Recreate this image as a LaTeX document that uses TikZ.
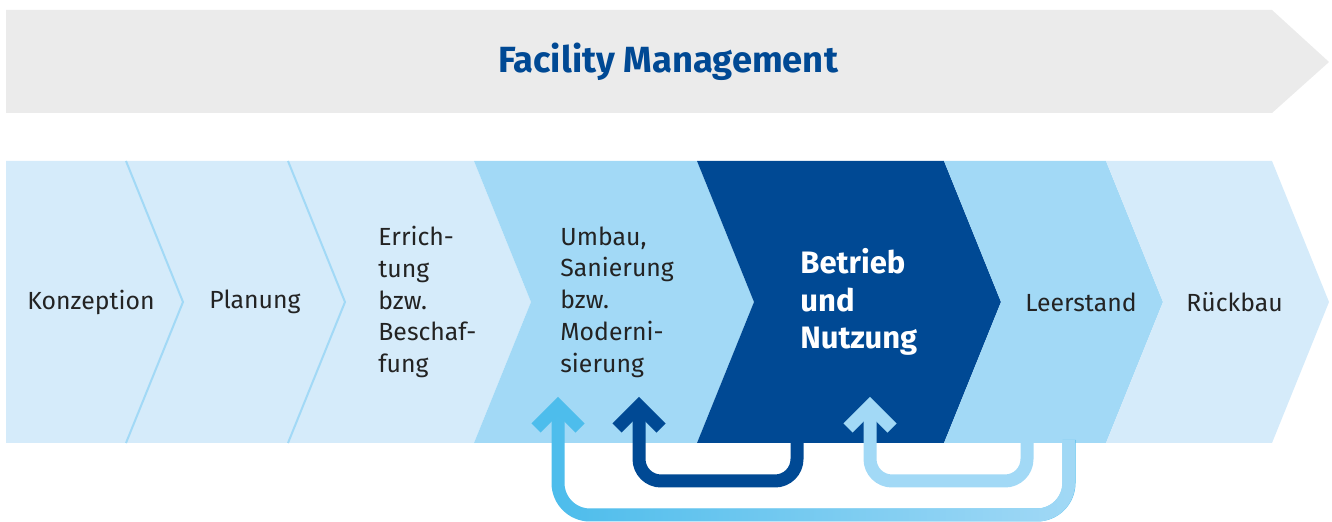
\documentclass[tikz,border=0pt]{standalone}
\usepackage{fontspec}
\setmainfont{Fira Sans}
\usetikzlibrary{calc,fadings}
\definecolor{fmgray}{RGB}{235,235,235}
\definecolor{fmlight}{RGB}{213,235,250}
\definecolor{fmmid}{RGB}{162,217,246}
\definecolor{fmdark}{RGB}{0,73,148}
\definecolor{fmcyan}{RGB}{77,189,236}
\definecolor{fmtext}{RGB}{35,35,35}
\tikzfading[name=loopfade,left color=transparent!100,right color=transparent!0]

\begin{document}
\begin{tikzpicture}[x=0.5pt,y=-0.5pt,
  phase/.style={anchor=west,inner sep=0pt,align=left,text=fmtext,
    font=\fontsize{12.4}{15.9}\selectfont},
  phasebold/.style={phase,text=white,font=\fontsize{15.5}{18.75}\selectfont\bfseries},
  sep/.style={fmmid,line width=1pt},
  backloop/.style={line width=6.5pt,rounded corners=11pt},
  head/.style={line width=6.5pt,line join=miter}
]
  \useasboundingbox (0,0) rectangle (1332,522);

  % facility management band
  \fill[fmgray] (6,10) -- (1272,10) -- (1329,62) -- (1272,113) -- (6,113) -- cycle;
  \node[font=\fontsize{18.2}{20}\selectfont\bfseries,text=fmdark] (fm) at (668,62) {Facility Management};

  % life cycle phases
  \fill[fmlight] (6,161) -- (126,161) -- (183,302) -- (126,443) -- (6,443) -- cycle;
  \fill[fmlight] (126,161) -- (288,161) -- (345,302) -- (288,443) -- (126,443) -- (183,302) -- cycle;
  \fill[fmlight] (288,161) -- (474,161) -- (531,302) -- (474,443) -- (288,443) -- (345,302) -- cycle;
  \fill[fmmid] (474,161) -- (697,161) -- (754,302) -- (697,443) -- (474,443) -- (531,302) -- cycle;
  \fill[fmdark] (697,161) -- (944,161) -- (1001,302) -- (944,443) -- (697,443) -- (754,302) -- cycle;
  \fill[fmmid] (944,161) -- (1106,161) -- (1163,302) -- (1106,443) -- (944,443) -- (1001,302) -- cycle;
  \fill[fmlight] (1106,161) -- (1272,161) -- (1329,302) -- (1272,443) -- (1106,443) -- (1163,302) -- cycle;
  \draw[sep] (126,161) -- (183,302) -- (126,443);
  \draw[sep] (288,161) -- (345,302) -- (288,443);

  \node[phase] (konzeption) at (27,302) {Konzeption};
  \node[phase] (planung) at (209,302) {Planung};
  \node[phase] (errichtung) at (378,302) {Errich-\\tung\\bzw.\\Beschaf-\\fung};
  \node[phase] (umbau) at (560,302) {Umbau,\\Sanierung\\bzw.\\Moderni-\\sierung};
  \node[phasebold] (betrieb) at (800,302) {Betrieb\\und\\Nutzung};
  \node[phase] (leerstand) at (1025,302) {Leerstand};
  \node[phase] (rueckbau) at (1186,302) {Rückbau};

  % feedback loops
  \coordinate (umbau-in1) at (558,406);
  \coordinate (umbau-in2) at (639,406);
  \coordinate (betrieb-in) at (870,406);
  \coordinate (betrieb-out) at (797,440);
  \coordinate (leer-out1) at (1027,440);
  \coordinate (leer-out2) at (1069,440);

  \draw[backloop,rounded corners=16pt,fmcyan] (leer-out2) -- (1069,515) -- (558,515) -- (umbau-in1);
  \draw[backloop,rounded corners=16pt,fmmid,path fading=loopfade] (leer-out2) -- (1069,515) -- (558,515) -- (umbau-in1);
  \draw[head,fmcyan] ($(umbau-in1)+(-22,22)$) -- (umbau-in1) -- ($(umbau-in1)+(22,22)$);

  \draw[backloop,fmdark] (betrieb-out) -- (797,481) -- (639,481) -- (umbau-in2);
  \draw[head,fmdark] ($(umbau-in2)+(-22,22)$) -- (umbau-in2) -- ($(umbau-in2)+(22,22)$);

  \draw[backloop,fmmid] (leer-out1) -- (1027,481) -- (870,481) -- (betrieb-in);
  \draw[head,fmmid] ($(betrieb-in)+(-22,22)$) -- (betrieb-in) -- ($(betrieb-in)+(22,22)$);
\end{tikzpicture}
\end{document}
